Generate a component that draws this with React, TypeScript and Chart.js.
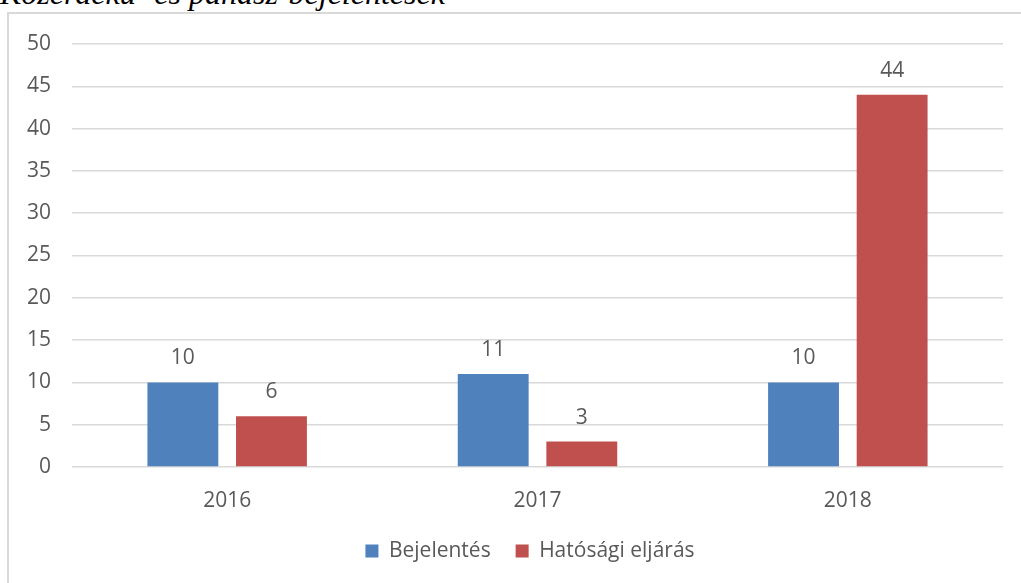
import React, { useEffect, useRef } from "react";
import { Chart, registerables } from "chart.js";

Chart.register(...registerables);

const TITLE = "Közérdekű- és panasz-bejelentések";
const categories = ["2016", "2017", "2018"];
const seriesNames = ["Bejelentés", "Hatósági eljárás"];
const bejelentes = [10, 11, 10];
const hatosagi = [6, 3, 44];
const seriesColors = ["#4F81BD", "#C0504D"];
const yMax = 50;
const yStep = 5;

const FONT = "'Open Sans', 'Noto Sans', sans-serif";
const TEXT = "#595959";
const FS = 21;

const valueLabels = {
  id: "valueLabels",
  afterDatasetsDraw(chart: any) {
    const ctx = chart.ctx;
    ctx.save();
    ctx.font = `${FS}px ${FONT}`;
    ctx.fillStyle = TEXT;
    ctx.textAlign = "center";
    ctx.textBaseline = "alphabetic";
    chart.data.datasets.forEach((ds: any, di: number) => {
      const meta = chart.getDatasetMeta(di);
      meta.data.forEach((bar: any, i: number) => {
        ctx.fillText(String(ds.data[i]), bar.x, bar.y - 18);
      });
    });
    ctx.restore();
  },
};

// shift the bottom legend so it is centred like the original
const legendShift = {
  id: "legendShift",
  afterLayout(chart: any) {
    const lg = chart.legend;
    if (lg) {
      lg.left += 28.5;
      lg.right += 28.5;
    }
  },
};

export default function App() {
  const ref = useRef<HTMLCanvasElement>(null);
  useEffect(() => {
    if (!ref.current) return;
    const chart = new Chart(ref.current, {
      type: "bar",
      data: {
        labels: categories,
        datasets: [
          { label: seriesNames[0], data: bejelentes, backgroundColor: seriesColors[0] },
          { label: seriesNames[1], data: hatosagi, backgroundColor: seriesColors[1] },
        ],
      },
      options: {
        animation: false,
        responsive: false,
        maintainAspectRatio: false,
        layout: { padding: { left: 0, right: 18, top: 44, bottom: 11.5 } },
        datasets: { bar: { barPercentage: 0.8, categoryPercentage: 0.571 } },
        plugins: {
          tooltip: { enabled: false },
          legend: {
            position: "bottom",
            labels: {
              boxWidth: 13,
              boxHeight: 13,
              padding: 25,
              color: TEXT,
              font: { size: FS, family: FONT },
            },
          },
        },
        scales: {
          x: {
            grid: { display: false, drawTicks: false },
            border: { display: false },
            ticks: { color: TEXT, font: { size: FS, family: FONT }, padding: 21 },
            afterFit(s: any) { s.height = 48.5; },
          },
          y: {
            min: 0,
            max: yMax,
            grid: { color: "#d9d9d9", lineWidth: 1.5, drawTicks: false },
            border: { display: false },
            ticks: { stepSize: yStep, color: TEXT, font: { size: FS, family: FONT }, padding: 21 },
            afterFit(s: any) { s.width = 72; },
          },
        },
      },
      plugins: [valueLabels, legendShift],
    });
    return () => chart.destroy();
  }, []);

  return (
    <div style={{ position: "absolute", left: 0, top: 0, width: 1021, height: 583, overflow: "hidden", background: "#fff" }}>
      <div
        style={{
          position: "absolute",
          left: 0,
          top: -25,
          fontFamily: "'Liberation Serif', 'Times New Roman', serif",
          fontStyle: "italic",
          fontSize: 32,
          whiteSpace: "nowrap",
          color: "#000",
          lineHeight: "36px",
        }}
      >
        {TITLE}
      </div>
      <div
        style={{
          position: "absolute",
          left: 7,
          top: 12,
          width: 1100,
          height: 700,
          border: "2px solid #d9d9d9",
          boxSizing: "border-box",
        }}
      />
      <canvas ref={ref} width={1021} height={583} style={{ position: "absolute", left: 0, top: 0 }} />
    </div>
  );
}
